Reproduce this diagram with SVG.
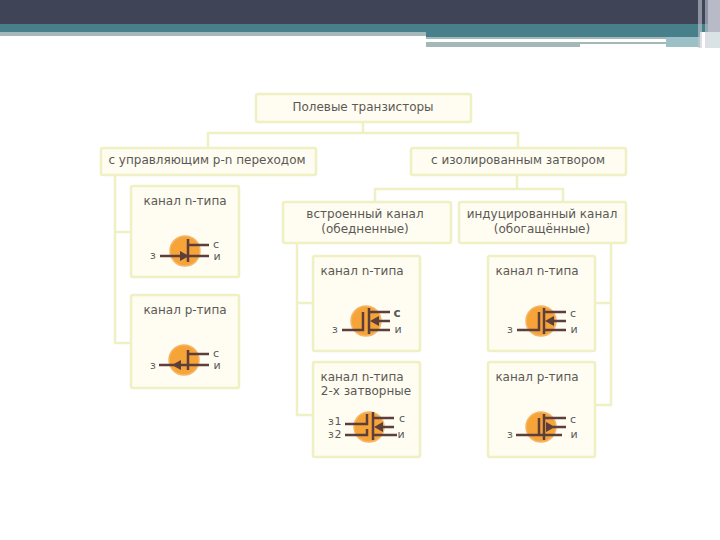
<svg xmlns="http://www.w3.org/2000/svg" width="720" height="540" viewBox="0 0 720 540">
<style>
text{font-family:"DejaVu Sans",sans-serif;font-size:12px;fill:#5c5955;text-anchor:middle}
.box{fill:#fffdf2;stroke:#eff0c4;stroke-width:2.5}
.con{fill:none;stroke:#eff0c4;stroke-width:2.5}
.ci{fill:#f6a338;stroke:#f3b66a;stroke-width:1.5}
.w{fill:none;stroke:#5c3f3a;stroke-width:2.5}
.a{fill:#5c3f3a}
.l{font-size:11px;fill:#5a5a58}
</style>
<rect width="720" height="540" fill="#fff"/>
<g id="header">
<rect width="720" height="24" fill="#3f4557"/>
<rect y="24" width="720" height="8" fill="#47808b"/>
<rect y="32" width="426" height="4" fill="#a5b8bb"/>
<rect x="426" y="32" width="274" height="5" fill="#47808b"/>
<rect x="426" y="37" width="240" height="2" fill="#a5b8b8"/>
<rect x="426" y="42" width="154" height="5" fill="#a5b8b8"/>
<rect x="580" y="42" width="86" height="2" fill="#a5b8b8"/>
<rect x="666" y="37" width="34" height="10" fill="#9cc0c6"/>
<rect x="698" width="4" height="48" fill="#c5c8d2" opacity=".6"/>
<rect x="705" width="3" height="48" fill="#c5c8d2" opacity=".6"/>
<rect x="708" width="12" height="32" fill="#b9bac8"/>
<rect x="708" y="32" width="12" height="16" fill="#d9e2e4"/>
</g>
<g id="connectors">
<path class="con" d="M363 122V133M208 147V133H518V147"/>
<path class="con" d="M115 175V343H130M115 232H130"/>
<path class="con" d="M517 175V189M375 201V189H563V201"/>
<path class="con" d="M297 243V415H312M297 303H312"/>
<path class="con" d="M611 243V405H595M611 303H595"/>
</g>
<g id="root"><rect class="box" x="256" y="94" width="215" height="28" rx="2"/><text x="363" y="111">Полевые транзисторы</text></g>
<g id="jfet-group"><rect class="box" x="101" y="148" width="215" height="27" rx="2"/><text x="207" y="164">с управляющим p-n переходом</text></g>
<g id="mos-group"><rect class="box" x="411" y="148" width="215" height="27" rx="2"/><text x="518" y="164">с изолированным затвором</text></g>
<g id="built-in"><rect class="box" x="283" y="202" width="168" height="41" rx="2"/><text x="365" y="218">встроенный канал</text><text x="365" y="233">(обедненные)</text></g>
<g id="induced"><rect class="box" x="459" y="202" width="167" height="41" rx="2"/><text x="542" y="218">индуцированный канал</text><text x="542" y="233">(обогащённые)</text></g>
<g id="j-n"><rect class="box" x="131" y="186" width="108" height="91" rx="2"/><text x="185" y="205">канал n-типа</text>
<circle class="ci" cx="185" cy="251" r="15"/>
<path class="w" d="M188 239V262M188 245H209M160 256H209"/><path class="a" d="M180 251L189 256L180 261Z"/>
<text class="l" x="216" y="248">с</text><text class="l" x="217" y="260">и</text><text class="l" x="153" y="259">з</text></g>
<g id="j-p"><rect class="box" x="131" y="295" width="108" height="93" rx="2"/><text x="185" y="314">канал p-типа</text>
<circle class="ci" cx="184" cy="360" r="15"/>
<path class="w" d="M188 350V370M188 354H209M159 365H209"/><path class="a" d="M181 360L172 365L181 370Z"/>
<text class="l" x="216" y="357">с</text><text class="l" x="217" y="369">и</text><text class="l" x="153" y="369">з</text></g>
<g id="b-n"><rect class="box" x="313" y="256" width="107" height="95" rx="2"/><text x="362" y="275">канал n-типа</text>
<circle class="ci" cx="366" cy="321" r="15"/>
<path class="w" d="M342 330H363V312M369 308V334M369 312H390M369 330H390M378 321H390"/><path class="a" d="M370 321L379 316V326Z"/>
<text x="397" y="317" style="font-weight:bold">с</text><text class="l" x="398" y="333">и</text><text class="l" x="335" y="333">з</text></g>
<g id="b-n2"><rect class="box" x="313" y="362" width="107" height="95" rx="2"/><text x="362" y="381">канал n-типа</text><text x="366" y="395">2-х затворные</text>
<circle class="ci" cx="369" cy="427" r="15"/>
<path class="w" d="M345 424H367V414M345 435H367V429M373 412V440M373 418H394M373 435H397M381 427H394"/><path class="a" d="M374 427L383 422V432Z"/>
<text class="l" x="402" y="422">с</text><text class="l" x="401" y="438">и</text><text class="l" x="335" y="425" style="letter-spacing:.5px">з1</text><text class="l" x="335" y="438" style="letter-spacing:.5px">з2</text></g>
<g id="i-n"><rect class="box" x="488" y="256" width="107" height="95" rx="2"/><text x="537" y="275">канал n-типа</text>
<circle class="ci" cx="541" cy="321" r="15"/>
<path class="w" d="M517 330H539V312M544 308V334M544 312H566M544 330H566M553 321H566"/><path class="a" d="M545 321L554 316V326Z"/>
<text class="l" x="573" y="317">с</text><text class="l" x="574" y="333">и</text><text class="l" x="510" y="333">з</text></g>
<g id="i-p"><rect class="box" x="488" y="362" width="107" height="95" rx="2"/><text x="537" y="381">канал p-типа</text>
<circle class="ci" cx="541" cy="427" r="15"/>
<path class="w" d="M516 435H562M539 418V435M544 414V440M544 418H566M553 427H566"/><path class="a" d="M555 427L546 422V432Z"/>
<text class="l" x="573" y="423">с</text><text class="l" x="574" y="438">и</text><text class="l" x="510" y="438">з</text></g>
</svg>
